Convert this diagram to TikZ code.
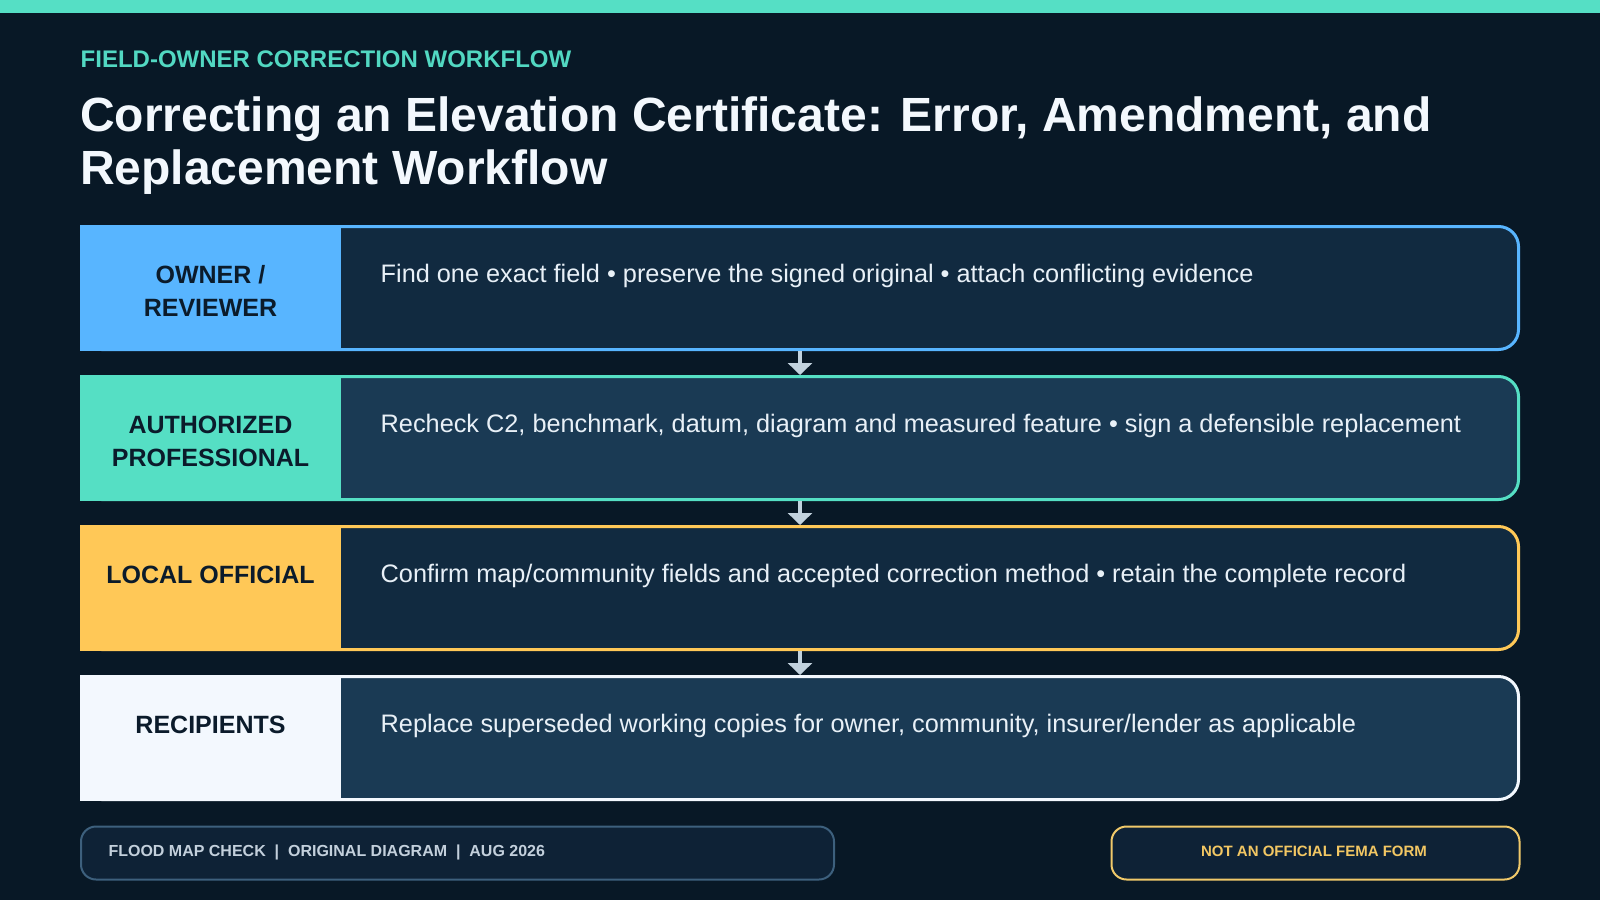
\documentclass[tikz,border=0pt]{standalone}
\usepackage{fontspec}
\setmainfont{Liberation Sans}
\usetikzlibrary{arrows.meta}
\definecolor{bgcol}{HTML}{081826}
\definecolor{topteal}{HTML}{55DFC5}
\definecolor{subteal}{HTML}{52D8C2}
\definecolor{titlecol}{HTML}{F3F8FD}
\definecolor{blueA}{HTML}{58B5FF}
\definecolor{tealA}{HTML}{55DFC4}
\definecolor{yellowA}{HTML}{FFC857}
\definecolor{whiteA}{HTML}{F3F8FE}
\definecolor{cardDark}{HTML}{112A40}
\definecolor{cardLight}{HTML}{1A3A54}
\definecolor{labelcol}{HTML}{0B1B2B}
\definecolor{bodycol}{HTML}{E8F0F7}
\definecolor{arrowcol}{HTML}{C2D2DE}
\definecolor{footfill}{HTML}{0E2236}
\definecolor{footline}{HTML}{3D607D}
\definecolor{foottext}{HTML}{C3D0DC}
\definecolor{warnline}{HTML}{F0C96A}
\definecolor{warntext}{HTML}{F2C763}
\tikzset{
  card/.style={rectangle, rounded corners=20pt, minimum width=1437pt, minimum height=123pt, line width=3pt, inner sep=0pt},
  roleblock/.style={rectangle, minimum width=261pt, minimum height=126pt, inner sep=0pt, outer sep=0pt},
  lbl/.style={font=\fontsize{25}{33.3}\selectfont\bfseries, text=labelcol, align=center, inner sep=0pt, anchor=base},
  body/.style={font=\fontsize{25.3}{30}\selectfont, text=bodycol, inner sep=0pt, anchor=base west},
  flow/.style={draw=arrowcol, line width=4pt, -{Triangle[width=24pt,length=12pt]}},
  footbox/.style={rectangle, rounded corners=15pt, line width=2pt, fill=footfill, minimum height=53pt, inner sep=0pt}
}
\begin{document}
\begin{tikzpicture}[x=1pt,y=-1pt]
\useasboundingbox (0,0) rectangle (1600,900);
\fill[bgcol] (0,0) rectangle (1600,900);
\fill[topteal] (0,0) rectangle (1600,13);

\node[font=\fontsize{24}{29}\selectfont\bfseries, text=subteal, anchor=base west, inner sep=0pt] (sub) at (80.5,67.5) {FIELD-OWNER CORRECTION WORKFLOW};
% anchor=base of a multi-line node is the baseline of its last line
\node[font=\fontsize{48}{52.3}\selectfont\bfseries, text=titlecol, anchor=base west, inner sep=0pt, align=left] (title) at (80,184) {Correcting an Elevation Certificate: Error, Amendment, and\\Replacement Workflow};

% cards
\node[card, fill=cardDark, draw=blueA] (c1) at (800,288) {};
\node[card, fill=cardLight, draw=tealA] (c2) at (800,438) {};
\node[card, fill=cardDark, draw=yellowA] (c3) at (800,588) {};
\node[card, fill=cardLight, draw=whiteA] (c4) at (800,738) {};

\node[roleblock, fill=blueA] (b1) at (210.5,288) {};
\node[roleblock, fill=tealA] (b2) at (210.5,438) {};
\node[roleblock, fill=yellowA] (b3) at (210.5,588) {};
\node[roleblock, fill=whiteA] (b4) at (210.5,738) {};

\node[lbl] (l1) at (210.5,316.6) {OWNER /\\REVIEWER};
\node[lbl] (l2) at (210.5,466.6) {AUTHORIZED\\PROFESSIONAL};
\node[lbl] (l3) at (210.5,583.3) {LOCAL OFFICIAL};
\node[lbl] (l4) at (210.5,733.3) {RECIPIENTS};

\node[body] (t1) at (380.5,282) {Find one exact field • preserve the signed original • attach conflicting evidence};
\node[body] (t2) at (380.5,432) {Recheck C2, benchmark, datum, diagram and measured feature • sign a defensible replacement};
\node[body] (t3) at (380.5,582) {Confirm map/community fields and accepted correction method • retain the complete record};
\node[body] (t4) at (380.5,732) {Replace superseded working copies for owner, community, insurer/lender as applicable};

\draw[flow] (c1.south) -- (c2.north);
\draw[flow] (c2.south) -- (c3.north);
\draw[flow] (c3.south) -- (c4.north);

% footer
\node[footbox, draw=footline, minimum width=753pt] (f1) at (457.5,853) {};
\node[font=\fontsize{16}{20}\selectfont\bfseries, text=foottext, anchor=base west, inner sep=0pt] (f1t) at (108.3,856.7) {FLOOD MAP CHECK \ |\ \ ORIGINAL DIAGRAM \ |\ \ AUG 2026};
\node[footbox, draw=warnline, minimum width=408pt] (f2) at (1315.5,853) {};
\node[font=\fontsize{15}{18}\selectfont\bfseries, text=warntext, anchor=base, inner sep=0pt] (f2t) at (1314,856.7) {NOT AN OFFICIAL FEMA FORM};
\end{tikzpicture}
\end{document}
